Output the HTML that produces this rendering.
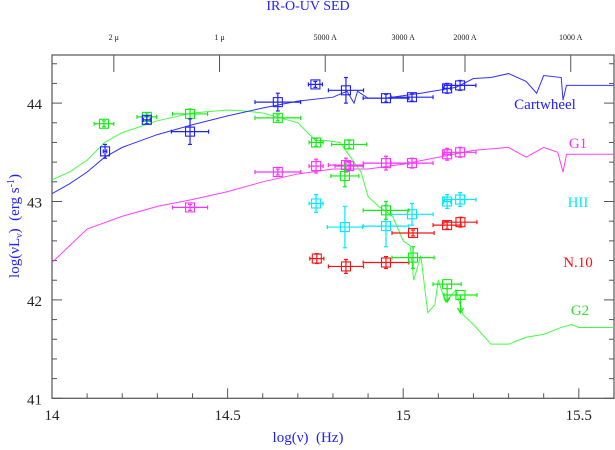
<!DOCTYPE html>
<html><head><meta charset="utf-8"><style>
html,body{margin:0;padding:0;background:#fff;width:615px;height:450px;overflow:hidden}
svg text{font-family:"Liberation Serif",serif}
</style></head><body>
<svg id="chart" width="615" height="450" xmlns="http://www.w3.org/2000/svg">
<text x="308" y="10" text-anchor="middle" font-size="14" fill="#2020ff">IR-O-UV SED</text>
<text x="308" y="442" text-anchor="middle" font-size="15" fill="#2020ff">log(ν)&#160;&#160;(Hz)</text>
<text transform="translate(19,226) rotate(-90)" text-anchor="middle" font-size="15" fill="#2020ff">log(νL<tspan font-size="10" dy="3">ν</tspan><tspan dy="-3">)&#160;&#160;(erg s</tspan><tspan font-size="10" dy="-5">-1</tspan><tspan dy="5">)</tspan></text>
<g id="axes"></g><g id="curves"></g><g id="points"></g><g id="labels"></g>
</svg>
<script>
const xTicks=[14,14.5,15,15.5];
const yTicks=[41,42,43,44];
const topLabels=["2 μ","1 μ","5000 A","3000 A","2000 A","1000 A"];
const topNu=[14.176,14.477,14.778,15.0,15.176,15.477];
const cartX=[14,14.05,14.1,14.15,14.2,14.3,14.4,14.5,14.6,14.7,14.8,14.84,14.86,14.87,14.9,14.95,15.05,15.15,15.2,15.25,15.3,15.35,15.38,15.4,15.45,15.455,15.465,15.6];
const cartY=[43.08,43.18,43.3,43.45,43.55,43.68,43.78,43.87,43.95,44.02,44.06,44.12,44.0,44.12,44.05,44.05,44.1,44.16,44.25,44.26,44.3,44.22,44.1,44.28,44.26,44.03,44.18,44.18];
const g1X=[14,14.05,14.1,14.2,14.3,14.4,14.5,14.6,14.7,14.8,14.9,15.0,15.1,15.2,15.3,15.35,15.4,15.44,15.455,15.465,15.6];
const g1Y=[42.38,42.55,42.72,42.85,42.95,43.02,43.1,43.2,43.28,43.33,43.33,43.38,43.45,43.52,43.55,43.45,43.55,43.5,43.3,43.48,43.48];
const g2X=[14,14.05,14.1,14.15,14.2,14.3,14.4,14.5,14.55,14.6,14.7,14.75,14.78,14.82,14.85,14.88,14.9,14.93,14.97,15.0,15.02,15.03,15.05,15.07,15.09,15.1,15.12,15.15,15.17,15.2,15.25,15.3,15.35,15.4,15.45,15.48,15.5,15.6];
const g2Y=[43.22,43.3,43.42,43.6,43.7,43.82,43.9,43.93,43.92,43.9,43.8,43.62,43.62,43.6,43.45,43.3,43.05,42.95,42.85,42.6,42.55,42.2,42.45,41.87,41.95,42.2,41.98,42.1,41.85,41.75,41.55,41.55,41.62,41.65,41.72,41.75,41.72,41.72];
const cwPtX=[14.151,14.27,14.393,14.643,14.75,14.837,14.951,15.025,15.125,15.162];
const cwPtY=[43.51,43.83,43.71,44.01,44.19,44.13,44.05,44.06,44.15,44.18];
const cwPtXe=[0.005,0.01,0.053,0.065,0.02,0.05,0.065,0.06,0.01,0.045];
const cwPtYe=[0.06,0.03,0.12,0.08,0.02,0.12,0.03,0.03,0.04,0.04];
const g2PtX=[14.148,14.27,14.393,14.643,14.752,14.846,14.834,14.951,15.028,15.125,15.163];
const g2PtY=[43.79,43.86,43.89,43.85,43.6,43.58,43.26,42.91,42.43,42.16,42.05];
const g2PtXe=[0.028,0.028,0.05,0.065,0.02,0.05,0.04,0.065,0.06,0.04,0.047];
const g2PtYe=[0.02,0.03,0.04,0.02,0.03,0.03,0.1,0.08,0.1,0,0];
const g2Limit=[0,0,0,0,0,0,0,0,0,1,1];
const g1PtX=[14.393,14.643,14.752,14.837,14.846,14.951,15.025,15.125,15.162];
const g1PtY=[42.94,43.3,43.36,43.37,43.36,43.39,43.39,43.48,43.5];
const g1PtXe=[0.05,0.065,0.02,0.05,0.04,0.065,0.06,0.01,0.045];
const g1PtYe=[0.02,0.02,0.06,0.06,0.03,0.06,0.04,0.05,0.04];
const hiiPtX=[14.752,14.834,14.951,15.025,15.125,15.162];
const hiiPtY=[42.98,42.74,42.75,42.87,43.0,43.02];
const hiiPtXe=[0.02,0.05,0.065,0.06,0.01,0.045];
const hiiPtYe=[0.08,0.2,0.2,0.1,0.06,0.06];
const n10PtX=[14.754,14.837,14.951,15.028,15.125,15.163];
const n10PtY=[42.42,42.34,42.38,42.68,42.76,42.79];
const n10PtXe=[0.02,0.05,0.065,0.06,0.04,0.047];
const n10PtYe=[0.04,0.06,0.05,0.02,0.03,0.04];

const L=52,R=614,T=55,B=398.3;
function X(v){return 52+(v-14)*351.2;}
function Y(v){return 398.3-(v-41)*98.4;}
const NS="http://www.w3.org/2000/svg";
function mk(tag,par,at){const e=document.createElementNS(NS,tag);for(const k in at)e.setAttribute(k,at[k]);par.appendChild(e);return e;}
const axes=document.getElementById('axes');
const frame=mk('rect',axes,{x:L,y:T,width:R-L,height:B-T,fill:'none',stroke:'#555','stroke-width':1.2});


for(let v=14;v<=15.61;v+=0.1){const x=X(v);const major=Math.abs(v*2-Math.round(v*2))<1e-6;
 const t=mk('line',axes,{x1:x,x2:x,y1:B,y2:B-(major?10:5),stroke:'#555'});
 
 }
xTicks.forEach(v=>{const t=mk('text',axes,{x:X(v),y:420,'text-anchor':'middle','font-size':15,fill:'#222'});t.textContent=String(v);
 
 });
for(let v=41;v<=44.5;v+=0.2){const y=Y(v);if(y<T)break;const major=Math.abs(v-Math.round(v))<1e-6;
 const t=mk('line',axes,{x1:L,x2:L+(major?10:5),y1:y,y2:y,stroke:'#555'});
 
 
 const t2=mk('line',axes,{x1:R,x2:R-(major?10:5),y1:y,y2:y,stroke:'#555'});
 
 }
yTicks.forEach(v=>{const t=mk('text',axes,{x:42,y:Y(v)+6,'text-anchor':'end','font-size':15,fill:'#222'});t.textContent=String(v);
 
 });
topNu.forEach((v,i)=>{const x=X(v);
 const t=mk('line',axes,{x1:x,x2:x,y1:T,y2:T+17,stroke:'#555'});
 
 
 const s=mk('text',axes,{x:x,y:40,'text-anchor':'middle','font-size':8,fill:'#222','font-family':'Liberation Mono, monospace'});s.textContent=topLabels[i];
 
 });
const curves=document.getElementById('curves');
function curve(xs,ys,col,name){const p=mk('polyline',curves,{points:xs.map((v,i)=>X(v)+','+Y(ys[i])).join(' '),fill:'none',stroke:col,'stroke-width':1});
 
 }
curve(g1X,g1Y,'#ff40ff','g1-model-curve');
curve(g2X,g2Y,'#40ff40','g2-model-curve');
curve(cartX,cartY,'#3030ff','cartwheel-model-curve');
const pts=document.getElementById('points');
function series(xs,ys,xe,ye,col,name,lim){xs.forEach((v,i)=>{const g=mk('g',pts,{stroke:col,'stroke-width':1.2,fill:'none'});
 
 
 const x=X(v),y=Y(ys[i]),x1=X(v-xe[i]),x2=X(v+xe[i]),y1=Y(ys[i]+ye[i]),y2=Y(ys[i]-ye[i]);
 mk('line',g,{x1:x1,x2:x2,y1:y,y2:y});mk('line',g,{x1:x1,x2:x1,y1:y-2,y2:y+2});mk('line',g,{x1:x2,x2:x2,y1:y-2,y2:y+2});
 if(lim&&lim[i]){mk('line',g,{x1:x,x2:x,y1:y,y2:y+18});mk('path',g,{d:`M${x-3},${y+13}L${x},${y+18}L${x+3},${y+13}`});}
 else{mk('line',g,{x1:x,x2:x,y1:y1-1,y2:y2+1});mk('line',g,{x1:x-2,x2:x+2,y1:y1-1,y2:y1-1});mk('line',g,{x1:x-2,x2:x+2,y1:y2+1,y2:y2+1});}
 mk('rect',g,{x:x-4.5,y:y-4.5,width:9,height:9,'stroke-width':1.1});});}
series(g1PtX,g1PtY,g1PtXe,g1PtYe,'#ff30ff','g1-point');
series(hiiPtX,hiiPtY,hiiPtXe,hiiPtYe,'#00e8ff','hii-point');
series(n10PtX,n10PtY,n10PtXe,n10PtYe,'#ff1010','n10-point');
series(g2PtX,g2PtY,g2PtXe,g2PtYe,'#10ee10','g2-point',g2Limit);
series(cwPtX,cwPtY,cwPtXe,cwPtYe,'#2020ff','cartwheel-point');
const lab=document.getElementById('labels');
[["Cartwheel",545,109,'#2020ff'],["G1",578,148,'#ff30ff'],["HII",578,207,'#00e8ff'],["N.10",578,267,'#ff1010'],["G2",580,315,'#30e030']].forEach(d=>{
 const t=mk('text',lab,{x:d[1],y:d[2],'text-anchor':'middle','font-size':15,fill:d[3]});t.textContent=d[0];
 
 });
</script>
</body></html>
